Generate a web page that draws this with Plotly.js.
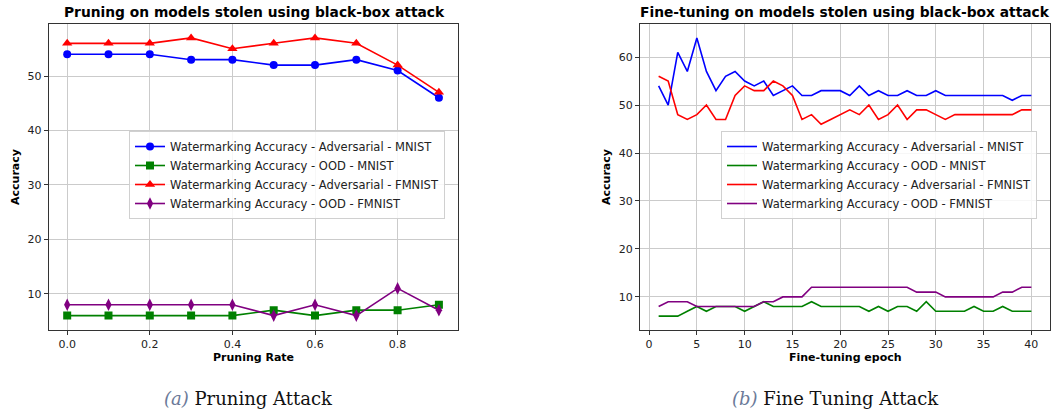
<!DOCTYPE html>
<html>
<head>
<meta charset="utf-8">
<script src="https://cdn.plot.ly/plotly-3.0.1.min.js"></script>
<style>html,body{margin:0;padding:0;background:#fff;}#chart{width:1051px;height:412px;}</style>
</head>
<body>
<div id="chart"></div>
<script>
// ---- Data ----
const pruningRate = [0.0, 0.1, 0.2, 0.3, 0.4, 0.5, 0.6, 0.7, 0.8, 0.9];
const pruneAdvMNIST  = [54, 54, 54, 53, 53, 52, 52, 53, 51, 46];
const pruneOodMNIST  = [6, 6, 6, 6, 6, 7, 6, 7, 7, 8];
const pruneAdvFMNIST = [56, 56, 56, 57, 55, 56, 57, 56, 52, 47];
const pruneOodFMNIST = [8, 8, 8, 8, 8, 6, 8, 6, 11, 7];

const epochs = [1,2,3,4,5,6,7,8,9,10,11,12,13,14,15,16,17,18,19,20,21,22,23,24,25,26,27,28,29,30,31,32,33,34,35,36,37,38,39,40];
const ftAdvMNIST  = [54,50,61,57,64,57,53,56,57,55,54,55,52,53,54,52,52,53,53,53,52,54,52,53,52,52,53,52,52,53,52,52,52,52,52,52,52,51,52,52];
const ftOodMNIST  = [6,6,6,7,8,7,8,8,8,7,8,9,8,8,8,8,9,8,8,8,8,8,7,8,7,8,8,7,9,7,7,7,7,8,7,7,8,7,7,7];
const ftAdvFMNIST = [56,55,48,47,48,50,47,47,52,54,53,53,55,54,52,47,48,46,47,48,49,48,50,47,48,50,47,49,49,48,47,48,48,48,48,48,48,48,49,49];
const ftOodFMNIST = [8,9,9,9,8,8,8,8,8,8,8,9,9,10,10,10,12,12,12,12,12,12,12,12,12,12,12,11,11,11,10,10,10,10,10,10,11,11,12,12];

const seriesNames = [
  'Watermarking Accuracy - Adversarial - MNIST',
  'Watermarking Accuracy - OOD - MNIST',
  'Watermarking Accuracy - Adversarial - FMNIST',
  'Watermarking Accuracy - OOD - FMNIST'
];
const colors = ['#0000ff', '#008000', '#ff0000', '#800080'];
const symbols = ['circle', 'square', 'triangle-up', 'diamond-tall'];
const markerSizes = [8, 8, 9, 9];

const pruneSeries = [pruneAdvMNIST, pruneOodMNIST, pruneAdvFMNIST, pruneOodFMNIST];
const ftSeries = [ftAdvMNIST, ftOodMNIST, ftAdvFMNIST, ftOodFMNIST];

const traces = [];
pruneSeries.forEach((ys, i) => {
  traces.push({
    x: pruningRate, y: ys, name: seriesNames[i], type: 'scatter', mode: 'lines+markers',
    xaxis: 'x', yaxis: 'y', legend: 'legend',
    line: {color: colors[i], width: 1.6},
    marker: {color: colors[i], symbol: symbols[i], size: markerSizes[i]}
  });
});
ftSeries.forEach((ys, i) => {
  traces.push({
    x: epochs, y: ys, name: seriesNames[i], type: 'scatter', mode: 'lines',
    xaxis: 'x2', yaxis: 'y2', legend: 'legend2',
    line: {color: colors[i], width: 1.6}
  });
});

const W = 1051, H = 412;
const px = v => v / W, py = v => 1 - v / H;
const font = 'DejaVu Sans, sans-serif';
const serif = 'DejaVu Serif, Liberation Serif, serif';
const axisCommon = {
  showgrid: true, gridcolor: '#cbcbcb', gridwidth: 1,
  showline: true, linecolor: '#333', linewidth: 1, mirror: true,
  ticks: 'outside', ticklen: 4, tickcolor: '#333', tickwidth: 1,
  tickfont: {family: font, size: 11, color: '#222'},
  zeroline: false
};

const legendCommon = {
  xanchor: 'left', yanchor: 'top',
  bgcolor: 'rgba(255,255,255,0.85)', bordercolor: '#d0d0d0', borderwidth: 1,
  font: {family: font, size: 11.5, color: '#222'}, tracegroupgap: 0, itemwidth: 30
};

const layout = {
  width: W, height: H,
  margin: {l: 0, r: 0, t: 0, b: 0},
  paper_bgcolor: '#fff', plot_bgcolor: '#fff',
  showlegend: true,
  xaxis: Object.assign({}, axisCommon, {
    domain: [px(48.6), px(457.5)], range: [-0.045, 0.945],
    tickvals: [0, 0.2, 0.4, 0.6, 0.8], ticktext: ['0.0', '0.2', '0.4', '0.6', '0.8'],
    anchor: 'y'
  }),
  yaxis: Object.assign({}, axisCommon, {
    domain: [py(329.5), py(24)], range: [3.45, 59.55],
    tickvals: [10, 20, 30, 40, 50], anchor: 'x'
  }),
  xaxis2: Object.assign({}, axisCommon, {
    domain: [px(640), px(1050)], range: [-0.95, 41.95],
    tickvals: [0, 5, 10, 15, 20, 25, 30, 35, 40], anchor: 'y2'
  }),
  yaxis2: Object.assign({}, axisCommon, {
    domain: [py(330), py(24)], range: [3.1, 66.9],
    tickvals: [10, 20, 30, 40, 50, 60], anchor: 'x2'
  }),
  legend: Object.assign({}, legendCommon, {x: px(129), y: py(131)}),
  legend2: Object.assign({}, legendCommon, {x: px(721), y: py(131)}),
  annotations: [
    {text: '<b>Pruning on models stolen using black-box attack</b>', x: px(254), y: py(12),
     xref: 'paper', yref: 'paper', showarrow: false, xanchor: 'center', yanchor: 'middle',
     font: {family: font, size: 13.8, color: '#000'}},
    {text: '<b>Fine-tuning on models stolen using black-box attack</b>', x: px(845), y: py(12),
     xref: 'paper', yref: 'paper', showarrow: false, xanchor: 'center', yanchor: 'middle',
     font: {family: font, size: 13.8, color: '#000'}},
    {text: '<b>Pruning Rate</b>', x: px(253), y: py(357), xref: 'paper', yref: 'paper',
     showarrow: false, xanchor: 'center', yanchor: 'middle', font: {family: font, size: 11, color: '#000'}},
    {text: '<b>Fine-tuning epoch</b>', x: px(845), y: py(357), xref: 'paper', yref: 'paper',
     showarrow: false, xanchor: 'center', yanchor: 'middle', font: {family: font, size: 11, color: '#000'}},
    {text: '<b>Accuracy</b>', x: px(16), y: py(177), xref: 'paper', yref: 'paper', textangle: -90,
     showarrow: false, xanchor: 'center', yanchor: 'middle', font: {family: font, size: 11, color: '#000'}},
    {text: '<b>Accuracy</b>', x: px(607), y: py(177), xref: 'paper', yref: 'paper', textangle: -90,
     showarrow: false, xanchor: 'center', yanchor: 'middle', font: {family: font, size: 11, color: '#000'}},
    {text: '<span style="color:#6b7a99"><i>(a)</i></span> Pruning Attack', x: px(248), y: py(398),
     xref: 'paper', yref: 'paper', showarrow: false, xanchor: 'center', yanchor: 'middle',
     font: {family: serif, size: 18, color: '#111'}},
    {text: '<span style="color:#6b7a99"><i>(b)</i></span> Fine Tuning Attack', x: px(835), y: py(398),
     xref: 'paper', yref: 'paper', showarrow: false, xanchor: 'center', yanchor: 'middle',
     font: {family: serif, size: 18, color: '#111'}}
  ]
};

Plotly.newPlot('chart', traces, layout, {staticPlot: true, displayModeBar: false});
</script>
</body>
</html>
